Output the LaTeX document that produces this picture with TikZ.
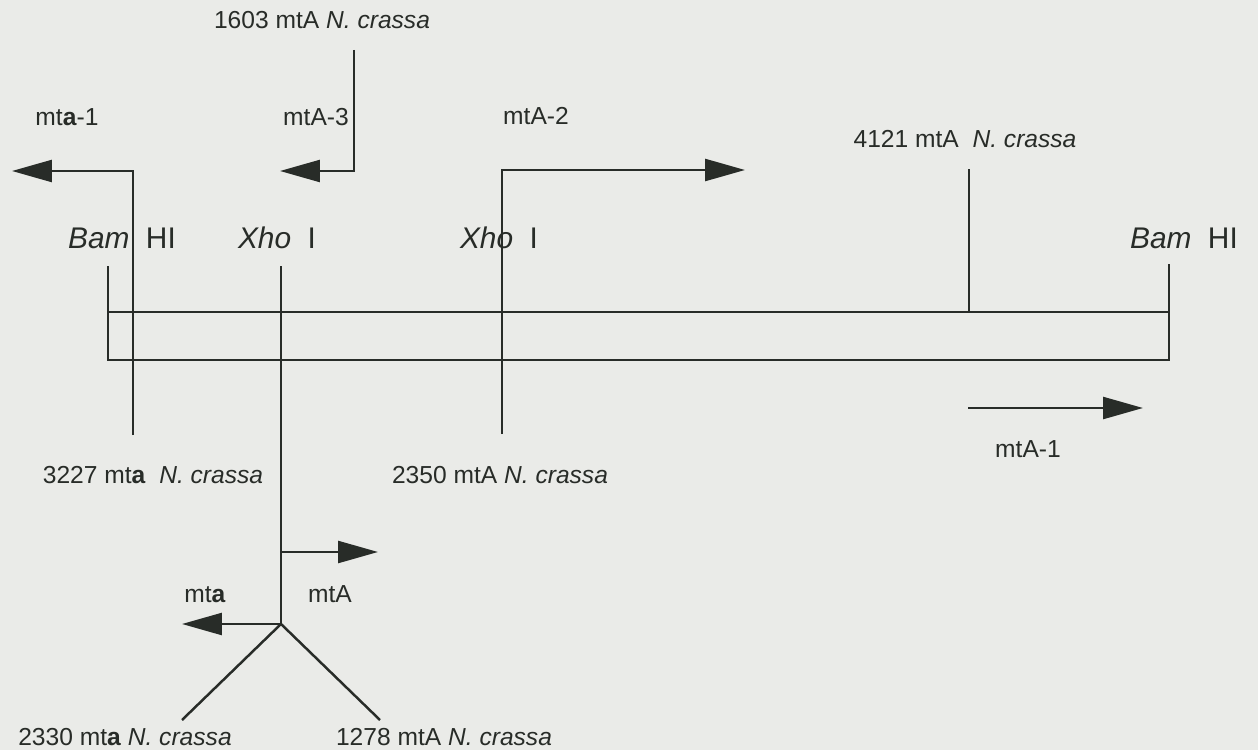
\documentclass[tikz,border=0pt]{standalone}
\usepackage{fontspec}
\setmainfont{Liberation Sans}
\usepackage{xcolor}
\usetikzlibrary{arrows.meta}
\usetikzlibrary{math}

\definecolor{paper}{RGB}{234,235,232}
\definecolor{ink}{RGB}{40,44,40}

\begin{document}
\begin{tikzpicture}[x=0.02cm, y=-0.02cm, line width=1.4pt, draw=ink,
  lbl/.style={font=\fontsize{14}{16}\selectfont, text=ink, inner sep=0pt, anchor=base},
  site/.style={font=\fontsize{17}{20}\selectfont, text=ink, inner sep=0pt, anchor=base},
  gene/.style={-{Triangle[length=0.8cm,width=0.44cm]}}]
\tikzmath{
\yt=312;
\yb=360;
\xl=108;
\xr=1169;
}

\fill[paper] (0,0) rectangle (1258,750);

% insert between the two BamHI sites
\coordinate (bamL) at (\xl,266);
\coordinate (bamR) at (\xr,264);
\draw (bamL) -- (\xl,\yb) -- (\xr,\yb) -- (bamR);
\draw (\xl,\yt) -- (\xr,\yt);

% probes and their reading directions
\coordinate (p3227) at (133,435);
\coordinate (p1603) at (354,50);
\coordinate (p2350) at (502,434);
\coordinate (p4121) at (969,169);
\coordinate (xhoL) at (281,266);
\coordinate (fork) at (281,624);
\coordinate (p2330) at (182,720);
\coordinate (p1278) at (380,720);

\draw[gene] (p3227) |- (12,171);
\draw[gene] (p1603) |- (280,171);
\draw[gene] (p2350) |- (745,170);
\draw (p4121) -- (969,\yt);
\draw (xhoL) -- (fork);
\draw[gene] (281,552) -- (378,552);
\draw[gene] (fork) -- (182,624);
\draw (p2330) -- (fork) -- (p1278);
\draw[gene] (968,408) -- (1143,408);

% restriction sites
\node[site] (bamHIl) at (122,248) {\textit{Bam}\hspace{0.55em}HI};
\node[site] (xhoIl) at (277,248) {\textit{Xho}\hspace{0.55em}I};
\node[site] (xhoIr) at (499,248) {\textit{Xho}\hspace{0.55em}I};
\node[site] (bamHIr) at (1184,248) {\textit{Bam}\hspace{0.55em}HI};

% labels
\node[lbl] (t1603) at (322,29) {1603 mtA \textit{N. crassa}};
\node[lbl] (tmtaone) at (67,126) {mt\textbf{a}-1};
\node[lbl] (tmtAthree) at (316,126) {mtA-3};
\node[lbl] (tmtAtwo) at (536,125) {mtA-2};
\node[lbl] (t4121) at (965,148) {4121 mtA\ \ \textit{N. crassa}};
\node[lbl] (t3227) at (153,483) {3227 mt\textbf{a}\ \ \textit{N. crassa}};
\node[lbl] (t2350) at (500,483) {2350 mtA \textit{N. crassa}};
\node[lbl] (tmtAone) at (1028,457) {mtA-1};
\node[lbl] (tmta) at (205,602) {mt\textbf{a}};
\node[lbl] (tmtA) at (330,602) {mtA};
\node[lbl] (t2330) at (125,745) {2330 mt\textbf{a} \textit{N. crassa}};
\node[lbl] (t1278) at (444,745) {1278 mtA \textit{N. crassa}};
\end{tikzpicture}
\end{document}
